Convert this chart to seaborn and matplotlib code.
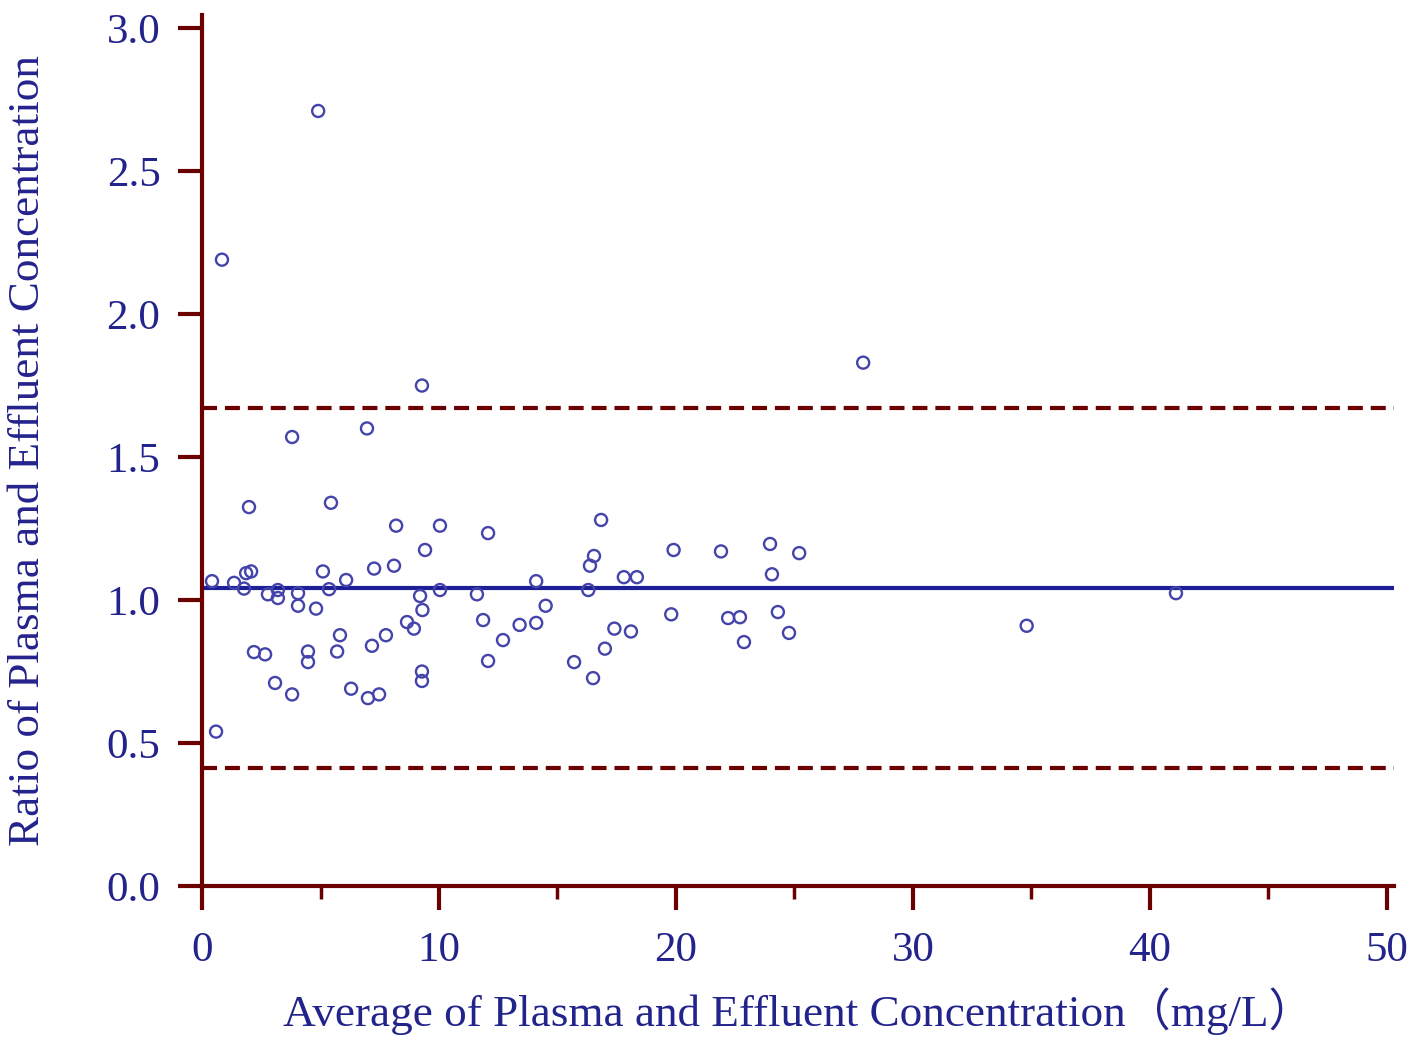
import matplotlib
matplotlib.use("Agg")
import matplotlib.pyplot as plt
import seaborn as sns
import pandas as pd
from matplotlib.ticker import MultipleLocator

# Bland-Altman style data
avg_conc = [4.9, 0.84, 27.9, 9.28, 3.8, 6.96, 1.98, 5.44, 8.19, 10.04,
            12.07, 16.84, 9.41, 16.54, 16.37, 19.9, 21.9, 23.97, 25.2, 24.05,
            5.1, 7.26, 8.1, 6.08, 0.42, 1.35, 1.86, 2.07, 1.77, 2.78,
            3.2, 3.2, 4.05, 5.36, 4.05, 4.81, 9.2, 9.3, 10.04, 11.6,
            14.1, 14.5, 16.3, 17.8, 18.35, 19.8, 22.2, 22.7, 24.3, 24.77,
            22.87, 18.1, 17.4, 17.0, 16.5, 15.7, 14.1, 13.4, 12.7, 12.07,
            11.86, 8.94, 8.65, 7.76, 7.17, 5.82, 5.7, 4.47, 4.47, 2.19,
            2.66, 3.08, 3.8, 6.29, 7.0, 7.47, 9.28, 9.28, 0.59, 34.8,
            41.1]
ratio = [2.71, 2.19, 1.83, 1.75, 1.57, 1.60, 1.325, 1.34, 1.26, 1.26,
         1.234, 1.28, 1.175, 1.154, 1.12, 1.175, 1.17, 1.196, 1.164, 1.09,
         1.10, 1.11, 1.12, 1.07, 1.066, 1.06, 1.094, 1.10, 1.04, 1.02,
         1.035, 1.007, 1.024, 1.038, 0.98, 0.97, 1.014, 0.965, 1.035, 1.02,
         1.066, 0.98, 1.035, 1.08, 1.08, 0.95, 0.937, 0.94, 0.958, 0.885,
         0.853, 0.89, 0.90, 0.83, 0.727, 0.783, 0.92, 0.913, 0.86, 0.787,
         0.93, 0.90, 0.923, 0.877, 0.84, 0.877, 0.82, 0.82, 0.783, 0.818,
         0.81, 0.71, 0.67, 0.69, 0.657, 0.67, 0.75, 0.717, 0.54, 0.91,
         1.024]
mean_ratio = 1.042
upper_loa = 1.671
lower_loa = 0.413

x_ticks = [0, 10, 20, 30, 40, 50]
y_ticks = [0.0, 0.5, 1.0, 1.5, 2.0, 2.5, 3.0]

df = pd.DataFrame({"avg": avg_conc, "ratio": ratio})

sns.set_style("ticks")
plt.rcParams["font.family"] = ["Liberation Serif", "Noto Sans CJK SC"]

text_col = "#23238C"
axis_col = "#6B0000"
point_col = "#4444AA"

fig = plt.figure(figsize=(14.24, 10.38), dpi=100)
ax = fig.add_axes([0.1419, 0.1464, 0.837, 0.839])

sns.scatterplot(data=df, x="avg", y="ratio", ax=ax, s=75, marker="o",
                facecolor="none", edgecolor=point_col, linewidth=1.7, zorder=3)

ax.axhline(mean_ratio, color="#1E1E96", lw=3, zorder=2)
ax.axhline(upper_loa, color=axis_col, lw=3, dashes=(3.6, 1.9), zorder=2)
ax.axhline(lower_loa, color=axis_col, lw=3, dashes=(3.6, 1.9), zorder=2)

ax.set_xlim(0, 50.3)
ax.set_ylim(0, 3.045)
ax.set_xticks(x_ticks)
ax.set_yticks(y_ticks)
ax.set_yticklabels([f"{v:.1f}" for v in y_ticks])
ax.xaxis.set_minor_locator(MultipleLocator(5))

for side in ["top", "right"]:
    ax.spines[side].set_visible(False)
for side in ["left", "bottom"]:
    ax.spines[side].set_color(axis_col)
    ax.spines[side].set_linewidth(3)

ax.tick_params(axis="both", which="major", direction="out", length=17,
               width=3, color=axis_col, labelsize=31, labelcolor=text_col)
ax.tick_params(axis="x", which="major", pad=16)
ax.tick_params(axis="y", which="major", pad=13)
ax.tick_params(axis="x", which="minor", direction="out", length=9,
               width=2.5, color=axis_col)

ax.set_xlabel("Average of Plasma and Effluent Concentration（mg/L）",
              fontsize=32.5, color=text_col, labelpad=12)
ax.set_ylabel("Ratio of Plasma and Effluent Concentration",
              fontsize=32.5, color=text_col, labelpad=42)

fig.savefig("out.png", dpi=100)
